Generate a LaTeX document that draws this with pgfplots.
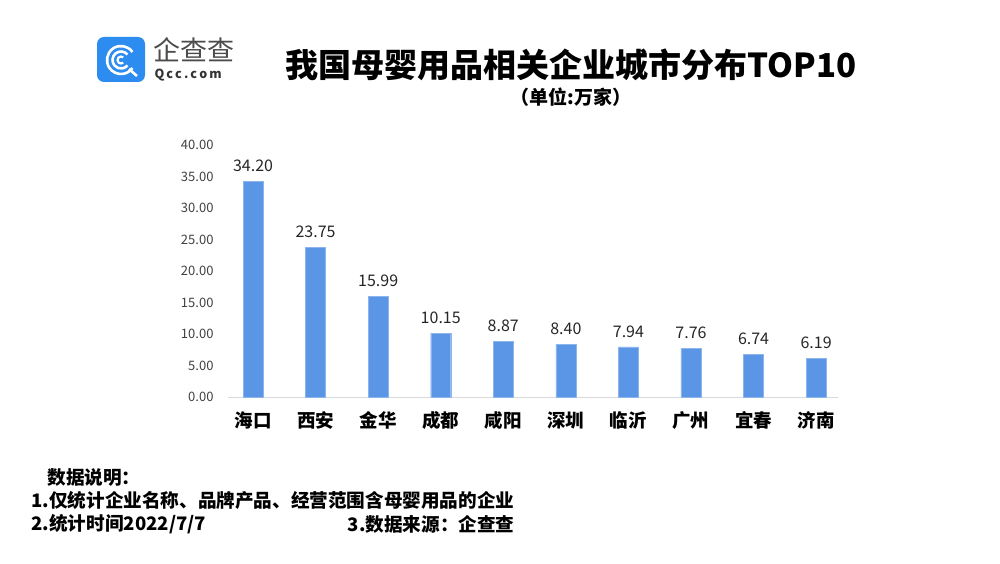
\documentclass[border=0pt]{standalone}
\usepackage{fontspec}
\setmainfont{Noto Sans CJK SC}
\usepackage{pgfplots}
\pgfplotsset{compat=1.18}
\definecolor{barblue}{HTML}{5B95E5}
\definecolor{logoblue}{HTML}{2D8CF0}
\definecolor{ticktext}{HTML}{404040}
\definecolor{basegray}{HTML}{D9D9D9}
\begin{document}
\begin{tikzpicture}[x=1pt,y=1pt]
\useasboundingbox (0,0) rectangle (1000,563);
% logo
\fill[logoblue, rounded corners=7pt] (97,481) rectangle (145,526);
\draw[white, line width=2.6pt] (121,503) ++(35:14) arc (35:325:14);
\draw[white, line width=2.6pt] (121,503) ++(40:8.5) arc (40:320:8.5);
\draw[white, line width=2.2pt] (121,503) ++(50:3.5) arc (50:310:3.5);
\draw[white, line width=2.6pt] (129,494) -- (137,487);
\node[anchor=west, text=black!70, font=\fontsize{27}{27}\selectfont] at (150,513) {企查查};
\node[anchor=west, text=black!80, font=\bfseries\fontsize{12.5}{13}\selectfont] at (151,488) {Q\,c\,c\,.\,c\,o\,m};
% title
\node[font=\bfseries\fontsize{33}{33}\selectfont] at (571,498) {我国母婴用品相关企业城市分布TOP10};
\node[font=\bfseries\fontsize{19}{19}\selectfont] at (571,466) {（单位:万家）};
% footer
\node[anchor=west, font=\bfseries\fontsize{18.6}{19}\selectfont] at (44,86) {数据说明：};
\node[anchor=west, font=\bfseries\fontsize{18.6}{19}\selectfont] at (28,63) {1.仅统计企业名称、品牌产品、经营范围含母婴用品的企业};
\node[anchor=west, font=\bfseries\fontsize{18.6}{19}\selectfont] at (28,39) {2.统计时间2022/7/7};
\node[anchor=east, font=\bfseries\fontsize{18.6}{19}\selectfont] at (518,39) {3.数据来源：企查查};
\begin{axis}[
    at={(228pt,166pt)}, anchor=south west,
    scale only axis, width=610pt, height=252pt,
    xmin=-0.4, xmax=9.35, ymin=0, ymax=40,
    ybar, bar width=20pt, bar shift=0pt,
    axis x line*=bottom, axis y line*=left,
    x axis line style={-, draw=basegray, line width=0.8pt},
    y axis line style={draw=none},
    major tick length=0pt,
    xtick={0,...,9},
    xticklabels={海口,西安,金华,成都,咸阳,深圳,临沂,广州,宜春,济南},
    xticklabel style={font=\bfseries\fontsize{18.5}{19}\selectfont, yshift=-11pt},
    ytick={0,5,...,40},
    /pgf/number format/assume math mode=true,
    yticklabel style={font=\fontsize{13}{13}\selectfont, text=ticktext,
        /pgf/number format/fixed, /pgf/number format/fixed zerofill,
        /pgf/number format/precision=2, xshift=-11pt},
    nodes near coords,
    every node near coord/.append style={font=\fontsize{16}{16}\selectfont, text=black!85,
        /pgf/number format/fixed, /pgf/number format/fixed zerofill,
        /pgf/number format/precision=2, yshift=6pt},
    clip=false,
]
\addplot[fill=barblue, draw=barblue!70!white] coordinates {
    (0,34.20) (1,23.75) (2,15.99) (3,10.15) (4,8.87)
    (5,8.40) (6,7.94) (7,7.76) (8,6.74) (9,6.19)};
\end{axis}
\end{tikzpicture}
\end{document}
